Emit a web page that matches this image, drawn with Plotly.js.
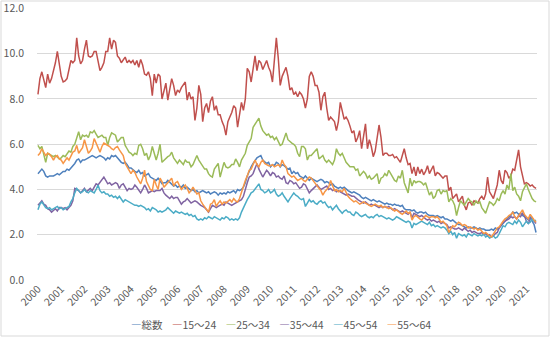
<!DOCTYPE html>
<html>
<head>
<meta charset="utf-8">
<script src="https://cdn.plot.ly/plotly-3.0.1.min.js"></script>
<style>html,body{margin:0;padding:0;background:#fff;}#chart{width:550px;height:337px;}</style>
</head>
<body>
<div id="chart"></div>
<script>
// Monthly unemployment rate (%), Jan 2000 – Jun 2021
const startYear = 2000;
const yearLabels = ['2000','2001','2002','2003','2004','2005','2006','2007','2008','2009','2010','2011','2012','2013','2014','2015','2016','2017','2018','2019','2020','2021'];
const seriesNames = ['総数','15～24','25～34','35～44','45～54','55～64'];
const seriesColors = ['#4F81BD','#C0504D','#9BBB59','#8064A2','#4BACC6','#F79646'];

const total = [
4.7,4.8,4.9,4.8,4.6,4.55,4.6,4.6,4.6,4.65,4.7,4.65,
4.75,4.8,4.8,4.9,4.85,4.95,5.0,5.15,5.3,5.35,5.2,5.3,
5.3,5.35,5.4,5.45,5.5,5.45,5.4,5.45,5.5,5.45,5.4,5.3,
5.4,5.35,5.5,5.45,5.5,5.4,5.3,5.2,5.15,5.2,5.1,4.95,
4.95,4.85,4.8,4.75,4.85,4.7,4.75,4.6,4.65,4.7,4.55,4.5,
4.45,4.4,4.5,4.35,4.25,4.3,4.3,4.4,4.3,4.25,4.15,4.2,
4.1,4.15,4.1,4.2,4.05,4.1,4.0,3.95,4.0,3.9,3.95,3.85,
3.9,3.95,3.9,3.85,3.9,3.8,3.85,3.9,3.85,3.75,3.85,3.8,
3.85,3.8,3.9,3.85,3.9,3.95,3.85,4.0,3.95,4.0,4.1,4.3,
4.6,4.85,5.0,5.15,5.3,5.4,5.45,5.5,5.3,5.2,5.15,5.2,
5.0,5.1,5.05,5.2,5.15,5.0,5.1,5.05,4.95,4.9,4.95,4.7,
4.8,4.7,4.75,4.6,4.55,4.5,4.6,4.5,4.4,4.5,4.45,4.4,
4.35,4.4,4.45,4.4,4.3,4.35,4.3,4.2,4.25,4.15,4.1,4.05,
4.1,4.05,4.1,4.0,3.95,3.9,3.85,3.9,3.85,3.8,3.75,3.65,
3.6,3.65,3.6,3.55,3.5,3.55,3.5,3.45,3.5,3.45,3.4,3.35,
3.4,3.35,3.35,3.3,3.35,3.3,3.3,3.25,3.3,3.15,3.1,3.1,
3.1,3.05,3.1,3.0,2.95,3.0,3.0,2.95,3.0,2.9,2.85,2.85,
2.85,2.8,2.85,2.8,2.75,2.8,2.7,2.7,2.65,2.6,2.65,2.55,
2.5,2.45,2.45,2.4,2.35,2.3,2.35,2.3,2.3,2.35,2.3,2.25,
2.3,2.25,2.25,2.2,2.2,2.2,2.25,2.2,2.3,2.25,2.3,2.4,
2.55,2.6,2.7,2.8,2.85,3.0,2.95,3.0,2.9,2.95,2.85,2.8,
2.75,2.65,2.8,2.6,2.45,2.1];

const age15_24 = [
8.2,8.9,9.2,8.9,8.5,9.1,8.7,8.9,9.2,9.6,10.1,9.6,
9.0,8.75,8.8,8.9,9.3,9.7,9.6,9.7,10.7,9.9,9.55,9.7,
10.2,10.6,9.9,9.85,9.9,10.1,10.1,9.6,9.25,9.4,9.6,10.1,
10.1,10.7,10.2,10.6,10.5,9.9,9.8,9.6,9.7,9.85,9.6,9.7,
9.6,9.7,9.5,9.7,9.4,9.75,9.5,9.1,9.05,9.2,8.9,8.15,
9.1,8.7,9.1,9.0,8.0,8.4,8.7,7.95,8.5,8.9,8.6,8.15,
8.4,8.3,8.5,8.6,8.75,7.95,8.3,8.0,8.1,7.05,7.6,8.6,
8.2,7.0,7.6,7.8,7.4,7.9,8.1,7.5,7.7,7.3,7.3,7.0,
6.8,6.4,7.0,7.2,7.4,7.7,7.6,6.75,7.3,7.85,7.5,8.0,
9.35,9.2,8.75,9.4,9.9,9.25,9.7,9.6,9.3,9.5,9.7,9.4,
9.2,8.75,9.7,10.7,9.8,8.6,9.0,9.2,9.4,9.0,8.4,8.5,
8.2,8.3,8.1,8.3,8.2,8.0,7.6,8.0,9.0,9.2,9.0,8.6,
8.6,8.3,7.5,8.1,8.3,7.6,7.05,7.2,7.1,7.0,6.6,7.0,
7.85,7.4,7.1,7.2,7.05,6.8,6.5,6.6,6.1,6.3,6.6,5.8,
6.3,6.9,5.8,6.2,5.9,5.45,5.7,6.25,6.85,6.3,5.5,5.6,
5.6,5.5,5.5,5.55,5.4,5.45,5.3,5.2,5.5,5.8,5.4,5.1,
5.15,4.7,5.0,4.6,5.0,4.7,4.9,4.65,4.8,5.05,4.7,4.9,
5.05,4.6,4.75,4.7,4.6,4.5,4.6,4.6,3.95,4.1,3.6,3.7,
3.8,3.45,3.6,3.7,3.3,3.1,3.4,3.45,3.3,3.5,3.45,3.4,
3.6,3.7,3.55,3.8,4.55,3.9,3.75,3.6,3.9,4.2,4.85,4.4,
4.25,4.85,4.75,4.5,4.6,4.9,4.85,5.3,5.75,5.0,4.6,4.25,
4.3,4.25,4.15,4.2,4.1,4.05];

const age25_34 = [
5.95,5.8,5.9,5.6,5.2,5.6,5.55,5.5,5.45,5.5,5.4,5.35,
5.4,5.5,5.45,5.6,5.7,5.65,5.9,6.0,6.3,6.55,6.2,6.4,
6.35,6.4,6.3,6.55,6.5,6.6,6.45,6.3,6.35,6.4,6.3,6.3,
5.95,6.3,6.5,6.45,6.4,6.1,6.2,6.3,6.3,5.95,5.8,5.65,
5.6,5.5,5.6,5.55,5.95,6.0,5.8,5.5,5.6,5.3,5.5,5.9,
5.6,5.3,5.6,6.0,5.2,5.3,5.4,5.45,5.5,5.65,5.4,5.3,
5.15,5.3,5.2,5.1,5.3,5.2,5.2,5.0,5.1,5.3,5.5,5.3,
5.15,5.0,4.9,4.9,4.7,4.6,4.55,4.9,5.0,5.15,4.55,4.9,
5.2,5.0,4.95,5.0,5.1,5.1,5.35,5.2,5.0,5.3,5.45,5.6,
5.95,6.1,6.25,6.75,6.9,7.05,7.15,6.8,6.6,6.5,6.4,6.45,
6.3,6.35,6.2,6.3,6.1,5.95,6.0,6.3,6.5,6.2,6.1,6.05,
6.0,5.9,5.6,5.45,5.9,5.9,5.8,5.3,5.5,5.5,5.6,5.7,
5.8,5.35,5.45,5.5,5.3,5.2,5.3,5.2,5.1,5.3,5.8,5.6,
5.5,5.6,5.4,5.2,5.1,5.0,5.0,5.0,4.85,4.9,4.6,4.7,
4.8,4.7,4.5,4.6,4.45,4.5,4.6,4.7,4.25,4.5,4.55,4.7,
4.6,4.85,4.7,4.55,4.4,4.35,4.6,4.5,4.85,4.3,4.1,3.85,
4.5,4.15,4.4,4.3,4.35,4.35,4.3,4.2,4.3,4.0,3.75,3.9,
3.6,3.7,3.95,4.0,3.8,3.95,3.9,3.95,3.45,3.6,3.5,3.3,
2.85,3.2,3.5,3.4,3.3,3.45,3.6,3.5,3.45,3.3,3.5,3.4,
3.45,3.2,3.05,2.95,3.2,3.45,3.4,3.3,3.4,3.6,3.5,3.8,
3.95,3.8,4.2,4.0,4.7,3.95,4.1,3.8,3.7,3.5,3.9,4.1,
4.25,4.0,3.8,3.6,3.5,3.45];

const age35_44 = [
3.3,3.4,3.5,3.35,3.3,3.15,3.1,3.0,3.1,3.15,3.05,3.2,
3.2,3.15,3.2,3.1,3.2,3.3,3.5,4.05,4.0,3.95,3.85,3.95,
4.05,3.9,4.0,4.05,3.95,4.1,4.25,4.2,4.3,4.4,4.55,4.4,
4.25,4.3,4.2,4.25,4.3,4.25,4.05,4.2,4.25,4.1,3.95,4.05,
4.0,4.05,4.2,4.1,3.95,3.85,4.0,4.2,4.05,3.85,3.9,3.95,
3.9,3.95,3.95,3.95,4.05,3.85,3.75,3.65,3.6,3.7,3.6,3.65,
3.65,3.5,3.35,3.45,3.5,3.6,3.5,3.4,3.45,3.5,3.45,3.35,
3.3,3.25,3.2,3.1,3.0,3.15,3.3,3.25,3.2,3.25,3.3,3.35,
3.3,3.45,3.4,3.35,3.3,3.35,3.4,3.45,3.5,3.55,3.7,4.05,
4.3,4.55,4.6,4.7,4.9,5.15,4.9,4.75,4.55,4.7,4.85,4.75,
4.6,4.75,4.7,4.55,4.6,4.5,4.45,4.6,4.3,4.25,4.4,4.35,
4.25,4.3,4.2,4.05,4.1,4.25,4.2,4.0,3.85,3.95,4.05,4.1,
4.2,4.1,4.0,4.05,4.1,4.15,4.0,4.05,3.95,4.0,3.9,3.95,
3.9,3.85,3.8,3.75,3.8,3.75,3.7,3.7,3.6,3.55,3.5,3.45,
3.4,3.45,3.35,3.3,3.35,3.3,3.3,3.25,3.2,3.25,3.2,3.25,
3.2,3.25,3.15,3.1,3.15,3.1,3.05,3.0,3.05,3.0,2.95,2.9,
3.0,2.75,2.95,2.9,2.85,2.8,2.85,2.75,2.7,2.65,2.7,2.6,
2.65,2.6,2.55,2.6,2.5,2.55,2.5,2.45,2.3,2.35,2.3,2.25,
2.25,2.3,2.25,2.2,2.3,2.2,2.15,2.2,2.1,2.15,2.1,2.05,
2.05,2.1,2.0,2.05,1.95,2.0,1.9,1.95,2.05,2.1,2.3,2.45,
2.55,2.6,2.65,2.7,2.8,2.75,2.8,2.7,2.85,2.8,2.95,2.85,
2.6,2.5,2.7,2.75,2.6,2.5];

const age45_54 = [
3.1,3.35,3.45,3.3,3.2,3.15,3.2,3.1,3.15,3.2,3.25,3.15,
3.2,3.1,3.15,3.2,3.25,3.45,3.6,3.85,4.05,3.95,3.85,3.9,
4.0,3.9,3.85,3.95,3.9,3.85,4.0,4.2,3.95,3.85,3.9,3.8,
3.8,3.7,3.75,3.65,3.7,3.6,3.7,3.6,3.45,3.55,3.5,3.45,
3.4,3.35,3.3,3.3,3.25,3.3,3.25,3.2,3.1,3.15,3.05,3.2,
3.15,3.1,3.0,3.05,3.0,3.05,3.1,3.2,3.1,3.0,2.95,3.05,
3.0,2.95,3.0,2.95,2.9,2.95,2.85,2.9,2.8,2.85,2.7,2.65,
2.7,2.65,2.75,2.7,2.8,2.75,2.7,2.8,2.75,2.7,2.65,2.75,
2.7,2.8,2.75,2.65,2.7,2.65,2.7,2.65,2.75,3.0,3.2,3.4,
3.55,3.7,3.85,3.9,4.0,4.1,4.25,4.0,3.95,3.85,3.9,4.0,
3.85,3.9,4.0,3.8,3.7,3.75,3.85,3.7,3.6,3.45,3.6,3.75,
3.85,3.75,3.7,3.6,3.55,3.6,3.25,3.4,3.55,3.45,3.5,3.4,
3.35,3.45,3.5,3.4,3.45,3.3,3.2,3.25,3.1,3.2,3.3,3.15,
3.05,2.95,3.05,3.1,3.0,3.0,2.9,2.85,3.0,2.95,2.85,2.8,
2.85,2.9,2.8,2.75,2.8,2.75,2.85,2.9,2.8,2.85,2.8,2.75,
2.7,2.75,2.7,2.65,2.7,2.8,2.75,2.7,2.65,2.6,2.55,2.6,
2.55,2.3,2.5,2.45,2.5,2.55,2.6,2.55,2.5,2.45,2.55,2.4,
2.45,2.35,2.4,2.35,2.3,2.35,2.3,2.2,2.05,2.15,2.0,2.1,
1.85,2.05,2.0,1.95,2.0,1.9,2.05,2.0,1.95,2.05,2.0,1.95,
2.0,1.95,2.05,1.9,1.95,1.85,1.9,1.95,1.85,1.9,2.05,2.2,
2.4,2.35,2.5,2.55,2.5,2.45,2.6,2.5,2.65,2.55,2.35,2.45,
2.6,2.5,2.55,2.7,2.6,2.65];

const age55_64 = [
5.5,5.6,5.8,5.65,5.5,5.6,5.55,5.45,5.3,5.45,5.5,5.35,
5.3,5.15,5.25,5.4,5.3,5.45,5.65,5.7,5.95,5.6,5.75,5.85,
6.2,5.9,5.6,5.7,5.85,6.25,6.05,5.8,5.65,5.9,6.05,6.0,
5.95,5.9,5.8,5.75,5.85,5.9,5.75,5.6,5.5,5.15,5.0,4.9,
4.7,4.85,4.75,4.55,4.4,4.25,4.5,4.85,4.35,4.2,4.0,3.95,
4.45,4.2,4.0,4.5,4.35,4.1,4.2,4.25,4.4,4.5,4.15,4.3,
4.35,4.15,4.0,4.1,4.2,4.05,3.85,3.95,4.1,3.95,3.8,3.85,
3.5,3.35,3.25,3.15,3.0,3.35,3.4,3.55,3.25,3.4,3.5,3.35,
3.45,3.4,3.5,3.55,3.45,3.6,3.5,3.45,3.6,3.9,4.1,4.4,
4.6,4.85,4.9,5.1,5.3,5.1,5.0,5.2,5.3,5.15,5.1,5.05,
5.05,5.1,5.0,5.05,5.1,5.0,5.3,5.1,5.0,4.7,4.6,4.55,
4.6,4.5,4.4,4.45,4.5,4.4,4.35,4.45,4.55,4.5,4.4,4.3,
4.2,4.05,3.95,3.75,3.9,4.0,4.1,4.4,4.2,3.95,4.0,3.9,
3.95,3.9,4.05,3.85,3.7,3.6,3.5,3.45,3.5,3.4,3.35,3.4,
3.45,3.4,3.35,3.3,3.25,3.3,3.35,3.3,3.25,3.3,3.2,3.25,
3.2,3.15,3.2,3.1,3.05,3.1,3.0,2.95,2.9,3.0,3.05,2.95,
3.0,2.65,2.8,2.85,2.75,2.7,2.65,2.75,2.85,2.8,2.75,2.8,
2.8,2.75,2.8,2.7,2.55,2.6,2.5,2.4,2.1,2.25,2.4,2.35,
2.45,2.55,2.5,2.4,2.45,2.4,2.3,2.35,2.3,2.25,2.3,2.2,
2.25,2.15,2.05,2.1,2.0,1.95,1.9,2.05,2.2,2.3,2.35,2.45,
2.6,2.7,2.75,2.85,2.9,3.0,2.8,2.7,2.85,2.95,3.1,2.9,
2.8,2.7,2.9,2.75,2.65,2.55];

const seriesValues = [total, age15_24, age25_34, age35_44, age45_54, age55_64];

// x = month index from Jan of startYear (category positions, as in the original)
const traces = seriesValues.map((vals, k) => ({
  type: 'scatter',
  mode: 'lines',
  name: seriesNames[k],
  x: vals.map((v, i) => i),
  y: vals,
  line: {color: seriesColors[k], width: 1.5},
  hoverinfo: 'y+name'
}));

const nMonths = total.length;
const font = '"Noto Sans CJK JP", "Noto Sans", sans-serif';
const legendText = seriesNames.map((n, k) =>
  '<span style="color:' + seriesColors[k] + '">―</span>' + n).join('    ');

const layout = {
  width: 550, height: 337,
  margin: {l: 37, r: 13, t: 8, b: 57},
  paper_bgcolor: '#ffffff',
  plot_bgcolor: '#ffffff',
  font: {family: font, size: 10.5, color: '#595959'},
  showlegend: false,
  xaxis: {
    type: 'linear',
    range: [-0.5, nMonths - 0.5],
    tickmode: 'array',
    tickvals: yearLabels.map((y, i) => i * 12),
    ticktext: yearLabels,
    tickangle: -45,
    ticks: '',
    showgrid: false,
    zeroline: false,
    showline: false,
    tickfont: {family: font, size: 10.5, color: '#595959'}
  },
  yaxis: {
    range: [0, 12.02],
    tickmode: 'array',
    tickvals: [0, 2, 4, 6, 8, 10, 12],
    ticktext: ['0.0', '2.0', '4.0', '6.0', '8.0', '10.0', '12.0'],
    ticks: '',
    ticklabelstandoff: 12,
    showgrid: true,
    gridcolor: '#D9D9D9',
    gridwidth: 1,
    zeroline: false,
    showline: false,
    tickfont: {family: font, size: 10.5, color: '#595959'}
  },
  annotations: [{
    xref: 'paper', yref: 'paper',
    x: 0.487, y: -0.165, xanchor: 'center', yanchor: 'middle',
    showarrow: false,
    text: legendText,
    font: {family: font, size: 10.5, color: '#595959'}
  }],
  shapes: [{
    type: 'rect', xref: 'paper', yref: 'paper',
    x0: -36/500, x1: 512/500, y0: -56/272, y1: 279/272,
    line: {color: '#D9D9D9', width: 1},
    layer: 'below'
  }]
};

Plotly.newPlot('chart', traces, layout, {displayModeBar: false, staticPlot: true});
</script>
</body>
</html>
